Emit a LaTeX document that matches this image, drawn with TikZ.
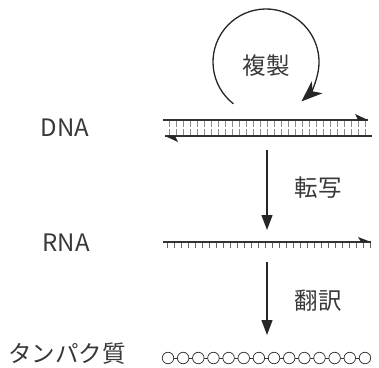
\documentclass[tikz,border=0pt]{standalone}
\usepackage{fontspec}
\setmainfont{Noto Sans CJK JP}
\usetikzlibrary{arrows.meta}
\begin{document}
\begin{tikzpicture}[x=1pt,y=-1pt,
  lbl/.style={font=\fontsize{24}{26}\selectfont, text=black!78, inner sep=0pt},
  jlbl/.style={font=\fontsize{23.5}{26}\selectfont, text=black!78, inner sep=0pt},
  strand/.style={line width=1.1pt, black!80},
  rung/.style={line width=0.6pt, black!45},
  flow/.style={line width=1.3pt, black!85, -{Triangle[length=15pt,width=11pt]}},
  aa/.style={circle, draw=black!80, line width=0.75pt, fill=white, minimum size=11.5pt, inner sep=0pt}]
\useasboundingbox (0,0) rectangle (379,367);
% labels
\node[lbl] (dna) at (65,128) {DNA};
\node[lbl] (rna) at (66,243) {RNA};
\node[jlbl] (prot) at (67,354) {タンパク質};
% replication loop
\coordinate (cc) at (266,62);
\node[jlbl] (rep) at (266,66) {複製};
\draw[line width=1.3pt, black!85, -{Stealth[length=21pt,width=16pt,inset=6pt]}]
  ([shift={(128:53)}]cc) arc[start angle=128, end angle=408, radius=53];
% DNA double strand
\coordinate (t1) at (163,120); \coordinate (t2) at (368,120);
\coordinate (b1) at (165,136); \coordinate (b2) at (372,136);
\foreach \i in {0,...,28} {
  \draw[rung] (169+7*\i,121) -- (169+7*\i,127.3);
  \draw[rung] (169+7*\i,128.7) -- (169+7*\i,135);
}
\draw[strand] (t1) -- (t2);
\draw[strand] (b1) -- (b2);
\fill[black!85] (t2) -- ++(-13,-6) -- ++(3,6) -- cycle;
\fill[black!85] (b1) -- ++(13,6) -- ++(-3,-6) -- cycle;
% transcription
\coordinate (a1s) at (267,150); \coordinate (a1e) at (267,230);
\draw[flow] (a1s) -- (a1e);
\node[jlbl] (tr) at (318,188) {転写};
% RNA
\coordinate (r1) at (163,242); \coordinate (r2) at (371,242);
\foreach \i in {0,...,29} {
  \draw[rung, black!60] (167+7*\i,242) -- (167+7*\i,248);
}
\draw[strand] (r1) -- (r2);
\fill[black!85] (r2) -- ++(-13,-5) -- ++(3,5) -- cycle;
% translation
\coordinate (a2s) at (267,262); \coordinate (a2e) at (267,335);
\draw[flow] (a2s) -- (a2e);
\node[jlbl] (tl) at (318,301) {翻訳};
% protein chain
\coordinate (p1) at (168,358); \coordinate (p2) at (365,358);
\draw[black!80, line width=0.75pt] (p1) -- (p2);
\foreach \i in {0,...,13} {
  \node[aa] (c\i) at (168+15.15*\i,358) {};
}
\end{tikzpicture}
\end{document}
